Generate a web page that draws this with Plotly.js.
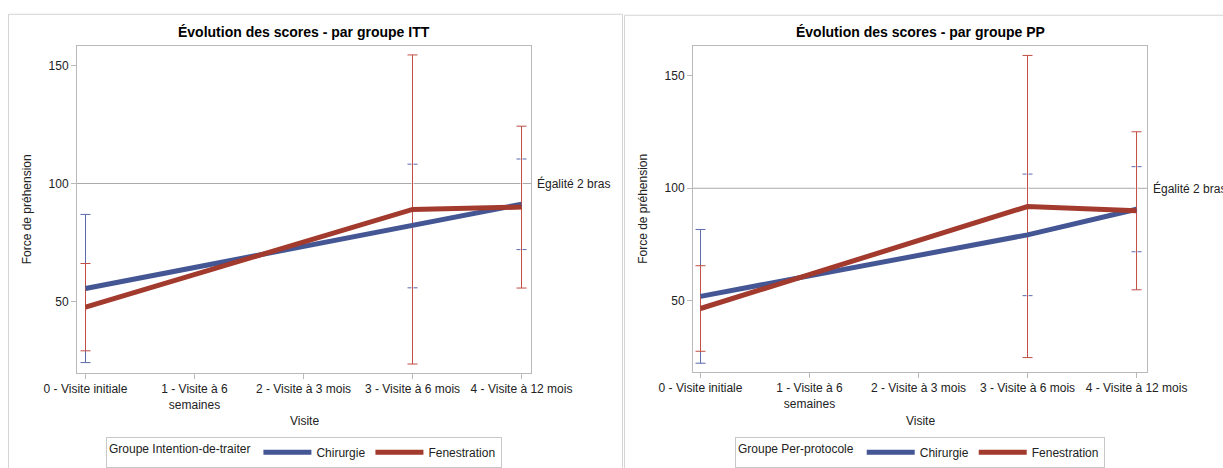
<!DOCTYPE html>
<html>
<head>
<meta charset="utf-8">
<script src="https://cdn.plot.ly/plotly-3.0.1.min.js"></script>
<style>html,body{margin:0;padding:0;background:#fff;}#chart{width:1223px;height:468px;}</style>
</head>
<body>
<div id="chart"></div>
<script>
const categories = ['0 - Visite initiale', '1 - Visite à 6<br>semaines', '2 - Visite à 3 mois', '3 - Visite à 6 mois', '4 - Visite à 12 mois'];
const groupNames = ['Chirurgie', 'Fenestration'];
const panelTitles = ['Évolution des scores - par groupe ITT', 'Évolution des scores - par groupe PP'];
const legendTitles = ['Groupe Intention-de-traiter', 'Groupe Per-protocole'];
const yTitle = 'Force de préhension';
const xTitle = 'Visite';
const refValue = 100;
const refLabel = 'Égalité 2 bras';
const yTicks = [50, 100, 150];

const ittChirurgie = [55.5, null, null, 82.0, 91.2];
const ittChirurgieErr = [31.4, null, null, 26.2, 19.2];
const ittFenestration = [47.6, null, null, 89.0, 90.0];
const ittFenestrationErr = [18.5, null, null, 65.5, 34.3];

const ppChirurgie = [52.0, null, null, 79.3, 90.7];
const ppChirurgieErr = [29.7, null, null, 27.0, 18.9];
const ppFenestration = [46.6, null, null, 91.9, 90.0];
const ppFenestrationErr = [19.0, null, null, 67.1, 35.1];

const W = 1223, H = 468;
const px = v => v / W;
const py = v => 1 - v / H;
const FONT = 'Liberation Sans, Arial, sans-serif';
const BLUE = '#445694', RED = '#A23A2E';
const BLUE_E = '#5A6AAE', RED_E = '#C04E44';

function errTrace(y, err, color, xa, ya, thick, capw) {
  return {x: categories, y: y, type: 'scatter', mode: 'markers',
    marker: {size: 2, color: 'rgba(0,0,0,0)'}, xaxis: xa, yaxis: ya, showlegend: false, hoverinfo: 'skip',
    error_y: {type: 'data', array: err, visible: true, color: color, thickness: thick, width: capw}};
}
function lineTrace(y, name, color, xa, ya, leg) {
  return {x: categories, y: y, name: name, type: 'scatter', mode: 'lines', connectgaps: true,
    line: {color: color, width: 5}, xaxis: xa, yaxis: ya, legend: leg};
}

const data = [
  errTrace(ittChirurgie, ittChirurgieErr, BLUE_E, 'x', 'y', 1, 5),
  errTrace(ittFenestration, ittFenestrationErr, '#FFFFFF', 'x', 'y', 2, 0),
  errTrace(ittFenestration, ittFenestrationErr, RED_E, 'x', 'y', 1, 5),
  lineTrace(ittChirurgie, groupNames[0], BLUE, 'x', 'y', 'legend'),
  lineTrace(ittFenestration, groupNames[1], RED, 'x', 'y', 'legend'),
  errTrace(ppChirurgie, ppChirurgieErr, BLUE_E, 'x2', 'y2', 1, 5),
  errTrace(ppFenestration, ppFenestrationErr, '#FFFFFF', 'x2', 'y2', 2, 0),
  errTrace(ppFenestration, ppFenestrationErr, RED_E, 'x2', 'y2', 1, 5),
  lineTrace(ppChirurgie, groupNames[0], BLUE, 'x2', 'y2', 'legend2'),
  lineTrace(ppFenestration, groupNames[1], RED, 'x2', 'y2', 'legend2')
];

const frame = '#B9B9B9';
function xAxis(dom, anchor, range) {
  return {domain: dom, anchor: anchor, type: 'category', categoryorder: 'array', categoryarray: categories,
    range: range, showgrid: false, zeroline: false, showline: true, mirror: true, linecolor: frame,
    ticks: 'outside', ticklen: 5, tickcolor: frame, tickfont: {family: FONT, size: 12, color: '#222'}, fixedrange: true};
}
function yAxis(dom, anchor, range) {
  return {domain: dom, anchor: anchor, range: range, tickvals: yTicks, showgrid: false, zeroline: false,
    showline: true, mirror: true, linecolor: frame, ticks: 'outside', ticklen: 5, tickcolor: frame,
    tickfont: {family: FONT, size: 12, color: '#222'}, fixedrange: true};
}

const panels = [
  {x0: 77, x1: 531, xr: [-0.078, 4.087], y0: 47, y1: 379, yr: [19.9, 158.2], ytitleX: 27, cx: 304},
  {x0: 693, x1: 1147, xr: [-0.069, 4.096], y0: 47, y1: 378, yr: [18.6, 163.1], ytitleX: 643, cx: 920}
];

const annotations = [];
const shapes = [];
panels.forEach((p, i) => {
  const xs = i === 0 ? 'x' : 'x2', ys = i === 0 ? 'y' : 'y2';
  annotations.push({xref: 'paper', yref: 'paper', x: px(p.cx), y: py(33), text: '<b>' + panelTitles[i] + '</b>',
    showarrow: false, xanchor: 'center', yanchor: 'middle', font: {family: FONT, size: 14, color: '#000'}});
  annotations.push({xref: 'paper', yref: 'paper', x: px(p.ytitleX), y: py((p.y0 + p.y1) / 2), text: yTitle,
    textangle: -90, showarrow: false, xanchor: 'center', yanchor: 'middle', font: {family: FONT, size: 12, color: '#222'}});
  annotations.push({xref: 'paper', yref: 'paper', x: px(p.cx), y: py(428), text: xTitle,
    showarrow: false, xanchor: 'center', yanchor: 'middle', font: {family: FONT, size: 12, color: '#222'}});
  annotations.push({xref: xs + ' domain', yref: ys, x: 1, y: refValue, text: refLabel, xshift: 4,
    showarrow: false, xanchor: 'left', yanchor: 'middle', font: {family: FONT, size: 12, color: '#222'}});
  shapes.push({type: 'line', xref: xs + ' domain', yref: ys, x0: 0, x1: 1, y0: refValue, y1: refValue,
    line: {color: '#A9A9A9', width: 1}, layer: 'below'});
});
shapes.push({type: 'rect', xref: 'paper', yref: 'paper', x0: px(8.5), x1: px(622.5), y0: -0.2, y1: py(14.5),
  line: {color: '#D4D4D4', width: 1}, fillcolor: 'rgba(0,0,0,0)'});
shapes.push({type: 'rect', xref: 'paper', yref: 'paper', x0: px(624.5), x1: 1.2, y0: -0.2, y1: py(15.5),
  line: {color: '#D4D4D4', width: 1}, fillcolor: 'rgba(0,0,0,0)'});

function legendCfg(i) {
  const p = panels[i];
  return {title: {text: legendTitles[i], side: 'left', font: {family: FONT, size: 12, color: '#222'}},
    orientation: 'h', x: px(p.cx), xanchor: 'center', y: py(460), yanchor: 'middle',
    xref: 'paper', yref: 'paper', bordercolor: '#C8C8C8', borderwidth: 1, bgcolor: '#fff', valign: 'middle',
    font: {family: FONT, size: 12, color: '#222'}, itemwidth: 48, tracegroupgap: 0, itemclick: false, itemdoubleclick: false};
}

const layout = {
  width: W, height: H, margin: {l: 0, r: 0, t: 0, b: 0}, paper_bgcolor: '#fff', plot_bgcolor: '#fff',
  xaxis: xAxis([px(panels[0].x0), px(panels[0].x1)], 'y', panels[0].xr),
  yaxis: yAxis([py(panels[0].y1), py(panels[0].y0)], 'x', panels[0].yr),
  xaxis2: xAxis([px(panels[1].x0), px(panels[1].x1)], 'y2', panels[1].xr),
  yaxis2: yAxis([py(panels[1].y1), py(panels[1].y0)], 'x2', panels[1].yr),
  legend: legendCfg(0), legend2: legendCfg(1),
  annotations: annotations, shapes: shapes, showlegend: true, hovermode: false
};

Plotly.newPlot('chart', data, layout, {displayModeBar: false, staticPlot: true});
</script>
</body>
</html>
